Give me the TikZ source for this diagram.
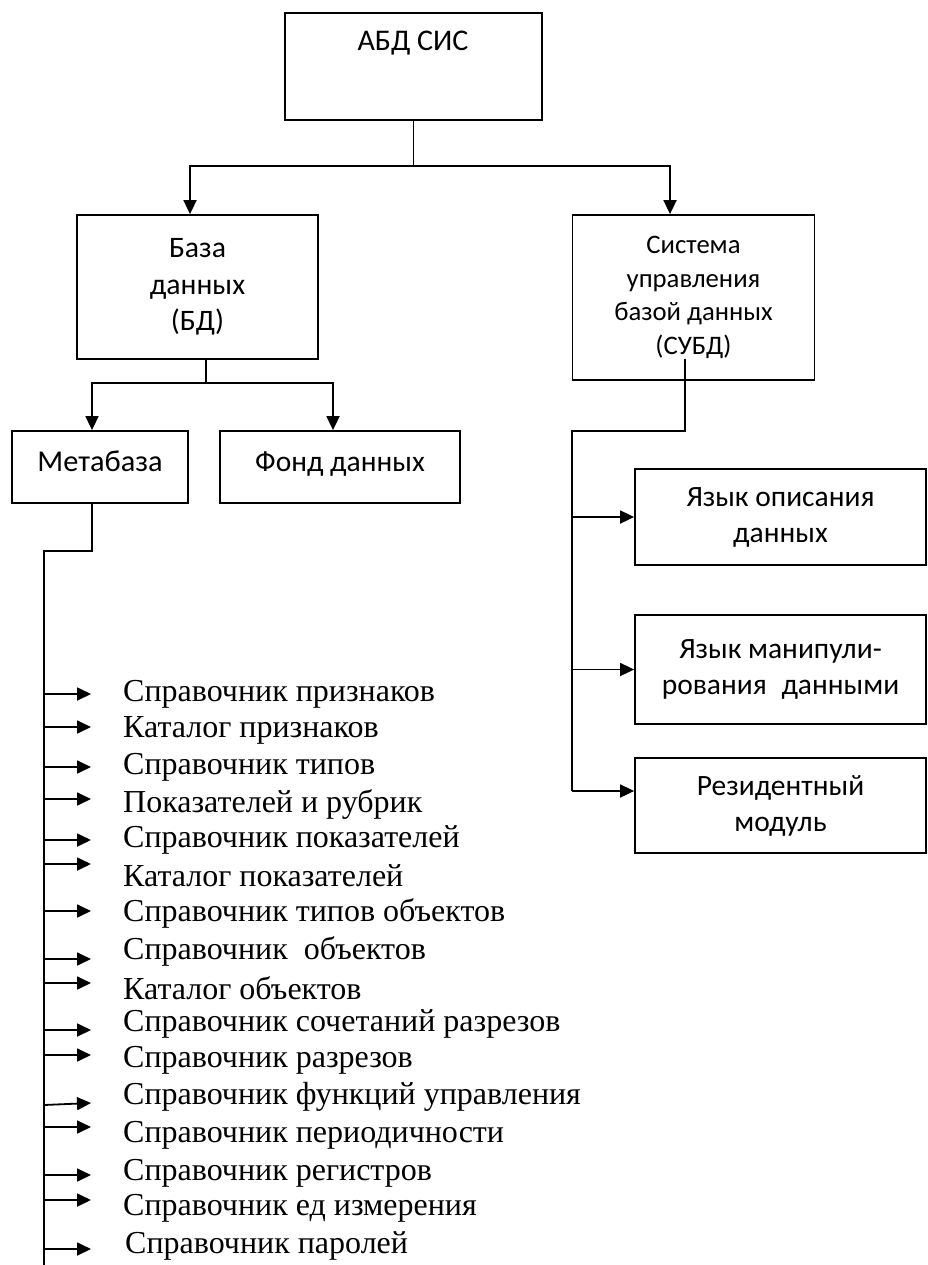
\documentclass[tikz,border=0pt]{standalone}
\usepackage{fontspec}
\setmainfont{Liberation Serif}
\newfontfamily\boxfont{Carlito}
\usetikzlibrary{arrows.meta}
\begin{document}
\begin{tikzpicture}[x=1pt,y=-1pt,
  box/.style={draw, line width=1.8pt, inner sep=0pt, align=center, font=\boxfont\fontsize{29.5}{36}\selectfont},
  btext/.style={inner sep=0pt, align=center, font=\boxfont\fontsize{30}{36}\selectfont},
  item/.style={anchor=west, inner sep=0pt, font=\fontsize{32}{36}\selectfont},
  conn/.style={line width=1.8pt},
  arr/.style={conn, -{Triangle[length=14pt,width=13pt]}},
]
\useasboundingbox (0,0) rectangle (928,1265);
% boxes
\node[box, minimum width=257, minimum height=107] (top) at (413.5,66.5) {};
\node[btext] (toptxt) at (413,43) {АБД СИС};
\node[box, minimum width=241, minimum height=144, font=\boxfont\fontsize{29.7}{36.5}\selectfont] (bd) at (197.5,287) {База\\данных\\(БД)};
\node[box, minimum width=242, minimum height=165, font=\boxfont\fontsize{26.7}{33.5}\selectfont] (subd) at (693.5,297.5) {Система\\управления\\базой данных\\(СУБД)};
\node[box, minimum width=176, minimum height=72, text height=21pt, text depth=12pt, font=\boxfont\fontsize{30.3}{36}\selectfont] (meta) at (100,467) {Метабаза};
\node[box, minimum width=240, minimum height=72, text height=21pt, text depth=12pt] (fond) at (340,467) {Фонд данных};
\node[box, minimum width=291, minimum height=96] (l1) at (780.5,517) {Язык описания\\данных};
\node[box, minimum width=291, minimum height=109] (l2) at (780.5,669.5) {Язык манипули-\\рования\hspace{0.5em}данными};
\node[box, minimum width=291, minimum height=95] (l3) at (780.5,805.5) {Резидентный\\модуль};
% top level connectors
\coordinate (j1) at (413.5,166);
\coordinate (bdtop) at ([xshift=-7.5pt]bd.north);
\coordinate (subdtop) at ([xshift=-23.5pt]subd.north);
\draw[conn] (top.south) -- (j1);
\draw[arr] (j1) -| (bdtop);
\draw[arr] (j1) -| (subdtop);
% BD connectors
\coordinate (j2) at ([xshift=8.5pt]bd.south);
\coordinate (j2b) at (206,383);
\coordinate (metatop) at ([xshift=-8pt]meta.north);
\coordinate (fondtop) at ([xshift=-7pt]fond.north);
\draw[conn] (j2) -- (j2b);
\draw[arr] (j2b) -| (metatop);
\draw[arr] (j2b) -| (fondtop);
% SUBD connectors
\coordinate (ss) at (685,359);
\coordinate (sbend) at (572,431);
\coordinate (sbot) at (572,791);
\draw[conn] (ss) |- (sbend) -- (sbot);
\draw[arr] (l1.west -| sbend) -- (l1.west);
\draw[arr] (l2.west -| sbend) -- (l2.west);
\draw[arr] (sbot) -- (sbot -| l3.west);
% Metabase connectors
\coordinate (ms) at ([xshift=-8pt]meta.south);
\coordinate (mbend) at (44,551);
\coordinate (mend) at (44,1265);
\draw[conn] (ms) |- (mbend) -- (mend);
% list
\foreach \n/\ty/\ay/\tx/\txt in {
  1/694/694/123/{Справочник признаков},
  2/730/727/123/{Каталог признаков},
  3/767/767/123/{Справочник типов},
  4/804/799/123/{Показателей и рубрик},
  5/840/840/123/{Справочник показателей},
  6/876/864/123/{Каталог показателей},
  7/913/911/123/{Справочник типов объектов},
  8/951/959/123/{Справочник\ \ объектов},
  9/988/983/123/{Каталог объектов},
  10/1024/1030/123/{Справочник сочетаний разрезов},
  11/1060/1055/123/{Справочник разрезов},
  12/1097/1103/123/{Справочник функций управления},
  13/1135/1127/123/{Справочник периодичности},
  14/1173/1175/123/{Справочник регистров},
  15/1208/1200/123/{Справочник ед измерения},
  16/1246/1249/125/{Справочник паролей}}{
  \node[item] (i\n) at (\tx,\ty) {\txt};
  \coordinate (a\n) at (91,\ay);
}
\foreach \n in {1,...,11,13,14,15,16}{
  \draw[arr] (a\n -| mend) -- (a\n);
}
\coordinate (a12s) at (44,1105);
\draw[arr] (a12s) -- (a12);
\end{tikzpicture}
\end{document}
